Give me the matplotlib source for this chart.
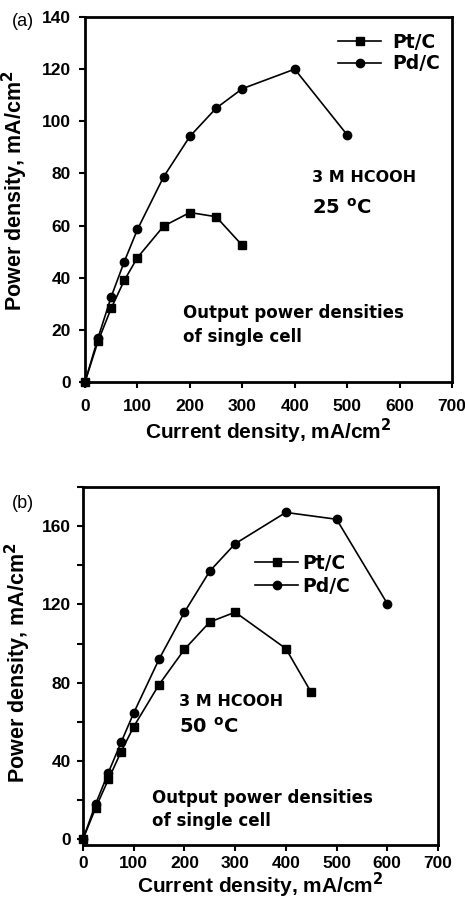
import matplotlib
matplotlib.use("Agg")
import matplotlib.pyplot as plt
from matplotlib.ticker import MultipleLocator

plt.rcParams["font.family"] = ["Liberation Sans", "DejaVu Sans"]
plt.rcParams["font.weight"] = "bold"
plt.rcParams["mathtext.default"] = "bf"

# (a) 25 °C
x_pt_a = [0, 25, 50, 75, 100, 150, 200, 250, 300]
y_pt_a = [0, 15.7, 28.3, 39, 47.7, 59.8, 65, 63.4, 52.4]
x_pd_a = [0, 25, 50, 75, 100, 150, 200, 250, 300, 400, 500]
y_pd_a = [0, 17, 32.7, 46.2, 58.5, 78.7, 94.2, 105, 112.5, 120, 94.8]

# (b) 50 °C
x_pt_b = [0, 25, 50, 75, 100, 150, 200, 250, 300, 400, 450]
y_pt_b = [0, 16, 30.5, 44.6, 57.5, 79, 97, 111, 116, 97.4, 75]
x_pd_b = [0, 25, 50, 75, 100, 150, 200, 250, 300, 400, 500, 600]
y_pd_b = [0, 18, 34, 49.4, 64.5, 92, 116, 137, 151, 167, 163.5, 120.4]

W, H = 465, 901
fig = plt.figure(figsize=(W / 100, H / 100), dpi=100)

ANN = ["DejaVu Sans"]


def px_axes(l, r, t, b):
    return fig.add_axes([l / W, 1 - b / H, (r - l) / W, (b - t) / H])


def put(x, y, s, size, fam=ANN, weight="bold"):
    fig.text(x / W, 1 - y / H, s, fontsize=size, family=fam,
             fontweight=weight, va="center", ha="left")


def style(ax, xpad, ypad, ylab_xy, xlabpad):
    for s in ax.spines.values():
        s.set_linewidth(2.0)
    ax.tick_params(which="both", direction="out", length=4, width=1.5,
                   labelsize=12.5)
    ax.tick_params(axis="x", which="both", pad=xpad)
    ax.tick_params(axis="y", which="both", pad=ypad)
    for lab in ax.get_xticklabels() + ax.get_yticklabels():
        lab.set_fontweight("bold")
    ax.set_xlabel("Current density, mA/cm$^2$", fontsize=15,
                  fontweight="bold", labelpad=xlabpad)
    ax.set_ylabel("Power density, mA/cm$^2$", fontsize=15.5,
                  fontweight="bold")
    ax.yaxis.set_label_coords(*ylab_xy)


def series(ax, xs, ys, marker):
    ax.plot(xs, ys, color="black", lw=1.2, marker=marker, ms=6,
            clip_on=False, zorder=3)


def legend(ax, x, y, pad, spacing):
    # x, y: pixel position of the upper-left corner of the legend
    ax.legend(["Pt/C", "Pd/C"], loc="upper left", frameon=False,
              bbox_to_anchor=(x / W, 1 - y / H), bbox_transform=fig.transFigure,
              prop={"family": ANN, "weight": "bold", "size": 13.5},
              handlelength=2.3, handletextpad=pad, labelspacing=spacing,
              borderpad=0, borderaxespad=0)


# ---- panel (a)
ax1 = px_axes(85, 452, 17, 382)
series(ax1, x_pt_a, y_pt_a, "s")
series(ax1, x_pd_a, y_pd_a, "o")
ax1.set_xlim(0, 700)
ax1.set_ylim(0, 140)
ax1.xaxis.set_major_locator(MultipleLocator(100))
ax1.yaxis.set_major_locator(MultipleLocator(20))
style(ax1, 8, 6, (-0.150, 0.523), 2)
legend(ax1, 338, 33, 0.6, 0.12)
put(312, 178, "3 M HCOOH", 11.5)
put(312, 208, "25 $^\\mathbf{o}$C", 14)
put(183, 313, "Output power densities", 12)
put(183, 337, "of single cell", 12)
put(12, 22, "(a)", 13, fam=["Liberation Sans"], weight="normal")

# ---- panel (b)
ax2 = px_axes(83, 438, 487, 845)
series(ax2, x_pt_b, y_pt_b, "s")
series(ax2, x_pd_b, y_pd_b, "o")
ax2.set_xlim(0, 700)
ax2.set_ylim(-3, 180)
ax2.xaxis.set_major_locator(MultipleLocator(100))
ax2.yaxis.set_major_locator(MultipleLocator(40))
ax2.yaxis.set_minor_locator(MultipleLocator(20))
style(ax2, 4, 4.7, (-0.141, 0.51), 0)
legend(ax2, 255, 554, 0.2, 0.2)
put(179, 702, "3 M HCOOH", 11.5)
put(179, 727, "50 $^\\mathbf{o}$C", 14)
put(152, 798, "Output power densities", 12)
put(152, 821, "of single cell", 12)
put(12, 503, "(b)", 13, fam=["Liberation Sans"], weight="normal")

fig.savefig("out.png", dpi=100, facecolor="white")
